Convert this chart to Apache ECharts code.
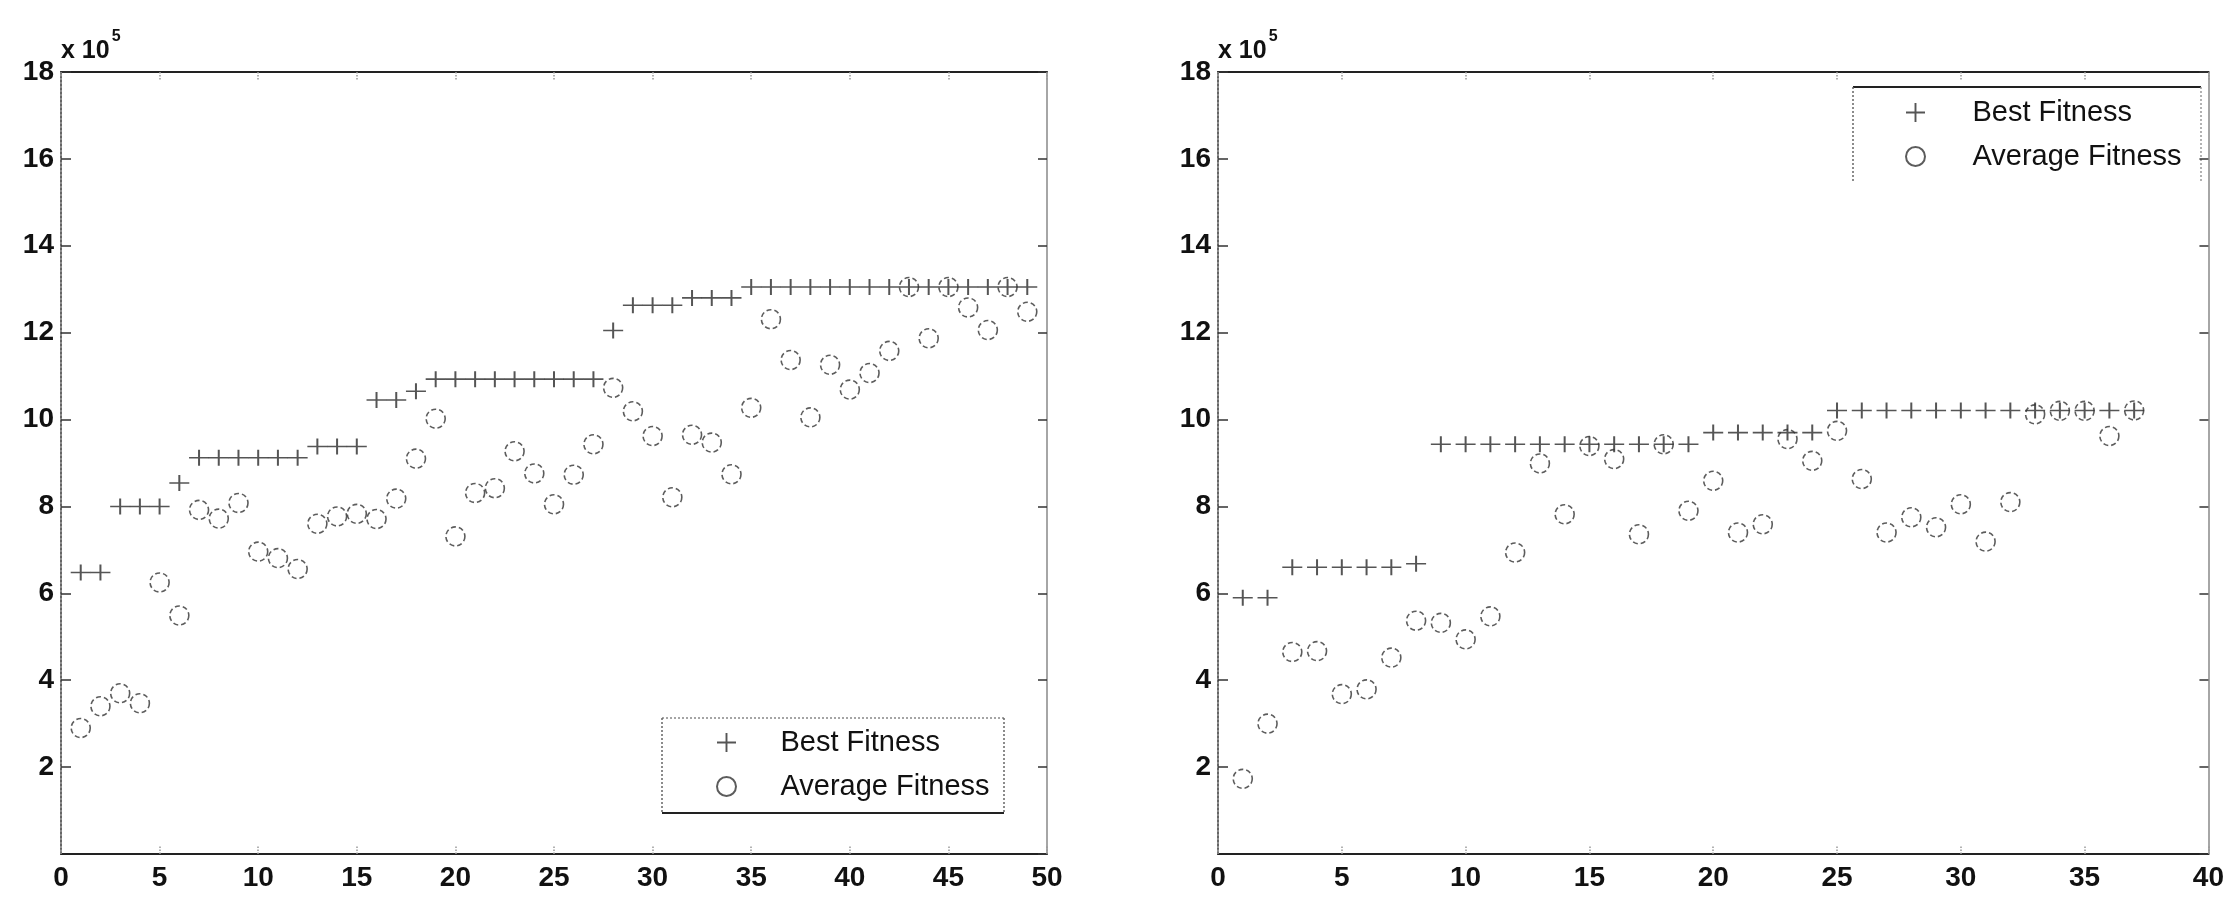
<!DOCTYPE html>
<html>
<head>
<meta charset="utf-8">
<script src="https://cdn.jsdelivr.net/npm/echarts@6/dist/echarts.min.js"></script>
<style>
html,body{margin:0;padding:0;background:#fff;}
#chart{width:2227px;height:901px;}
</style>
</head>
<body>
<div id="chart"></div>
<script>
// Values are in units of 10^5
const leftGenerations = [1,2,3,4,5,6,7,8,9,10,11,12,13,14,15,16,17,18,19,20,21,22,23,24,25,26,27,28,29,30,31,32,33,34,35,36,37,38,39,40,41,42,43,44,45,46,47,48,49];
const leftBest = [6.48,6.48,8.0,8.0,8.0,8.54,9.12,9.12,9.12,9.12,9.12,9.12,9.38,9.38,9.38,10.45,10.45,10.65,10.93,10.93,10.93,10.93,10.93,10.93,10.93,10.93,10.93,12.05,12.63,12.63,12.63,12.8,12.8,12.8,13.05,13.05,13.05,13.05,13.05,13.05,13.05,13.05,13.05,13.05,13.05,13.05,13.05,13.05,13.05];
const leftAvg = [2.9,3.4,3.7,3.47,6.25,5.49,7.92,7.72,8.08,6.96,6.81,6.56,7.6,7.77,7.83,7.71,8.18,9.1,10.02,7.31,8.31,8.42,9.27,8.76,8.05,8.73,9.43,10.73,10.19,9.62,8.21,9.65,9.47,8.74,10.27,12.31,11.37,10.05,11.26,10.69,11.07,11.58,13.05,11.87,13.05,12.58,12.06,13.05,12.48];

const rightGenerations = [1,2,3,4,5,6,7,8,9,10,11,12,13,14,15,16,17,18,19,20,21,22,23,24,25,26,27,28,29,30,31,32,33,34,35,36,37];
const rightBest = [5.9,5.9,6.6,6.6,6.6,6.6,6.6,6.68,9.43,9.43,9.43,9.43,9.43,9.43,9.43,9.43,9.43,9.43,9.43,9.7,9.7,9.7,9.7,9.7,10.21,10.21,10.21,10.21,10.21,10.21,10.21,10.21,10.21,10.21,10.21,10.21,10.21];
const rightAvg = [1.73,3.0,4.65,4.67,3.68,3.79,4.52,5.37,5.32,4.94,5.47,6.94,8.99,7.82,9.39,9.09,7.36,9.43,7.9,8.59,7.4,7.59,9.55,9.05,9.74,8.63,7.4,7.75,7.52,8.05,7.19,8.1,10.12,10.2,10.2,9.62,10.21];

const leftXTicks = {min:0, max:50, interval:5};
const rightXTicks = {min:0, max:40, interval:5};
const yTicks = {min:0, max:18, interval:2};
const seriesNames = ['Best Fitness','Average Fitness'];
const scaleName = '{a|x 10}{b|5}';

const FONT = "'Liberation Sans', Arial, sans-serif";
const plusPath = 'path://M0,9h20v2h-20z M9,0h2v20h-2z';

function pairs(xs, ys){ return xs.map((x,i)=>[x, ys[i]]); }

function xAxes(gi, t){
  return [
    { gridIndex: gi, type:'value', position:'bottom', min:t.min, max:t.max, interval:t.interval,
      axisLine:{show:true, onZero:false, lineStyle:{color:'#222', width:2}},
      axisTick:{show:true, inside:true, length:8, lineStyle:{color:'#999', type:'dotted', width:1.5}},
      axisLabel:{show:true, margin:10, fontFamily:FONT, fontWeight:'bold', fontSize:28, color:'#111'},
      splitLine:{show:false} },
    { gridIndex: gi, type:'value', position:'top', min:t.min, max:t.max, interval:t.interval,
      axisLine:{show:true, onZero:false, lineStyle:{color:'#222', width:2}},
      axisTick:{show:true, inside:true, length:8, lineStyle:{color:'#999', type:'dotted', width:1.5}},
      axisLabel:{show:false}, splitLine:{show:false} }
  ];
}
function yAxes(gi){
  return [
    { gridIndex: gi, type:'value', position:'left', min:yTicks.min, max:yTicks.max, interval:yTicks.interval,
      name: scaleName, nameLocation:'end', nameGap:8,
      nameTextStyle:{align:'left', verticalAlign:'bottom',
        rich:{ a:{fontFamily:FONT, fontWeight:'bold', fontSize:25, color:'#111', verticalAlign:'bottom', lineHeight:35},
               b:{fontFamily:FONT, fontWeight:'bold', fontSize:16, color:'#111', verticalAlign:'top', lineHeight:35, padding:[0,0,0,2]} } },
      axisLine:{show:true, onZero:false, lineStyle:{color:'#666', width:2, type:'dotted'}},
      axisTick:{show:true, inside:true, length:10, lineStyle:{color:'#333', width:1.5}},
      axisLabel:{show:true, showMinLabel:false, margin:7, fontFamily:FONT, fontWeight:'bold', fontSize:28, color:'#111'},
      splitLine:{show:false} },
    { gridIndex: gi, type:'value', position:'right', min:yTicks.min, max:yTicks.max, interval:yTicks.interval,
      axisLine:{show:true, onZero:false, lineStyle:{color:'#888', width:1.5}},
      axisTick:{show:true, inside:true, length:9, lineStyle:{color:'#333', width:1.5}},
      axisLabel:{show:false}, splitLine:{show:false} }
  ];
}

function bestSeries(xi, yi, data){
  return { name: seriesNames[0], type:'scatter', xAxisIndex:xi, yAxisIndex:yi, data:data,
    symbol: plusPath, symbolSize:[20,16], symbolKeepAspect:false,
    itemStyle:{color:'#2a2a2a'}, z:2, silent:true };
}
function avgSeries(xi, yi, data){
  return { name: seriesNames[1], type:'scatter', xAxisIndex:xi, yAxisIndex:yi, data:data,
    symbol:'circle', symbolSize:19,
    itemStyle:{color:'rgba(255,255,255,0)', borderColor:'#333', borderWidth:1.6, borderType:[5,3]}, z:3, silent:true };
}

const chart = echarts.init(document.getElementById('chart'), null, {renderer:'canvas'});
const option = {
  backgroundColor:'#ffffff',
  animation:false,
  grid:[
    {left:61, top:72, width:986, height:782},
    {left:1218, top:72, width:994, height:782}
  ],
  xAxis: xAxes(0, leftXTicks).concat(xAxes(1, rightXTicks)),
  yAxis: yAxes(0).concat(yAxes(1)),
  legend:[
    { data:seriesNames, orient:'vertical', left:716, top:728, padding:0, itemGap:15,
      itemWidth:98, itemHeight:19, textStyle:{fontFamily:FONT, fontSize:29, color:'#111'}, selectedMode:false },
    { data:seriesNames, orient:'vertical', left:1905, top:98, padding:0, itemGap:15,
      itemWidth:104, itemHeight:19, textStyle:{fontFamily:FONT, fontSize:29, color:'#111'}, selectedMode:false }
  ],
  graphic:[
    {type:'line', shape:{x1:662,y1:718,x2:1004,y2:718}, style:{stroke:'#888', lineWidth:1.5, lineDash:[2,2]}, z:-1},
    {type:'line', shape:{x1:662,y1:718,x2:662,y2:813}, style:{stroke:'#666', lineWidth:1.5, lineDash:[2,2]}, z:-1},
    {type:'line', shape:{x1:1004,y1:718,x2:1004,y2:813}, style:{stroke:'#666', lineWidth:1.5, lineDash:[2,2]}, z:-1},
    {type:'line', shape:{x1:662,y1:813,x2:1004,y2:813}, style:{stroke:'#222', lineWidth:2}, z:-1},
    {type:'line', shape:{x1:1853,y1:87,x2:2201,y2:87}, style:{stroke:'#222', lineWidth:2}, z:-1},
    {type:'line', shape:{x1:1853,y1:87,x2:1853,y2:182}, style:{stroke:'#666', lineWidth:1.5, lineDash:[2,2]}, z:-1},
    {type:'line', shape:{x1:2201,y1:87,x2:2201,y2:182}, style:{stroke:'#999', lineWidth:1.5, lineDash:[2,2]}, z:-1}
  ],
  series:[
    bestSeries(0, 0, pairs(leftGenerations, leftBest)),
    avgSeries(0, 0, pairs(leftGenerations, leftAvg)),
    bestSeries(2, 2, pairs(rightGenerations, rightBest)),
    avgSeries(2, 2, pairs(rightGenerations, rightAvg))
  ]
};
chart.setOption(option);
</script>
</body>
</html>
